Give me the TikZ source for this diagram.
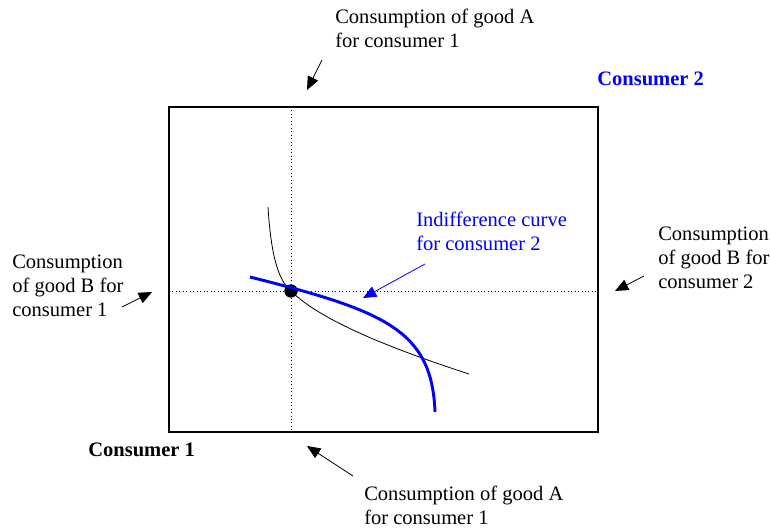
\documentclass[tikz,border=0pt]{standalone}
\usepackage{fontspec}
\setmainfont{Liberation Serif}
\usetikzlibrary{arrows.meta}
\definecolor{icblue}{RGB}{0,0,255}
\tikzset{
  lbl/.style={anchor=base west, inner sep=0pt, align=left, font=\fontsize{15.4}{18}\selectfont},
  bluelbl/.style={lbl, text=icblue},
  ptr/.style={-{Triangle[length=10pt, width=8.5pt]}, line width=0.6pt},
  guide/.style={dotted, line width=0.6pt},
  dot/.style={circle, fill=black, inner sep=0pt, minimum size=10pt}
}

\begin{document}
\begin{tikzpicture}[x=0.75pt, y=-0.75pt]
  \useasboundingbox (0,0) rectangle (770,529);
  % Edgeworth box
  \draw[line width=1pt] (169,107) rectangle (598,432);
  \draw[guide] (291,107) -- (291,432);
  \draw[guide] (169,291) -- (598,291);
  \node[dot] (endow) at (291,291) {};

  % indifference curves
  \draw[line width=0.6pt] (268,207) .. controls (271,255) and (278,280) .. (endow.center)
    .. controls (318,318) and (380,345) .. (469,374);
  \draw[icblue, line width=2.2pt] (250,277) .. controls (385,311) and (432,330) .. (435,412);

  % labels (base = last line)
  \node[lbl] (topA) at (335,47) {Consumption of good A\\for consumer 1};
  \node[lbl] (botA) at (364,524) {Consumption of good A\\for consumer 1};
  \node[lbl] (leftB) at (12,316) {Consumption\\of good B for\\consumer 1};
  \node[lbl] (rightB) at (658,288) {Consumption\\of good B for\\consumer 2};
  \node[bluelbl] (icurve) at (416,250) {Indifference curve\\for consumer 2};
  \node[lbl, font=\fontsize{15.4}{18}\selectfont\bfseries] (cons1) at (88,456) {Consumer 1};
  \node[bluelbl, font=\fontsize{15.4}{18}\selectfont\bfseries] (cons2) at (597,85) {Consumer 2};

  % pointers
  \coordinate (topTail) at (322,60);   \coordinate (topTip) at (307,90);
  \coordinate (botTail) at (353,476);  \coordinate (botTip) at (307,446);
  \coordinate (leftTail) at (122,307); \coordinate (leftTip) at (152,292);
  \coordinate (rightTail) at (644,276); \coordinate (rightTip) at (615,291);
  \coordinate (icTail) at (425,264);   \coordinate (icTip) at (363,298);
  \draw[ptr] (topTail) -- (topTip);
  \draw[ptr] (botTail) -- (botTip);
  \draw[ptr] (leftTail) -- (leftTip);
  \draw[ptr] (rightTail) -- (rightTip);
  \draw[ptr, icblue] (icTail) -- (icTip);
\end{tikzpicture}
\end{document}
